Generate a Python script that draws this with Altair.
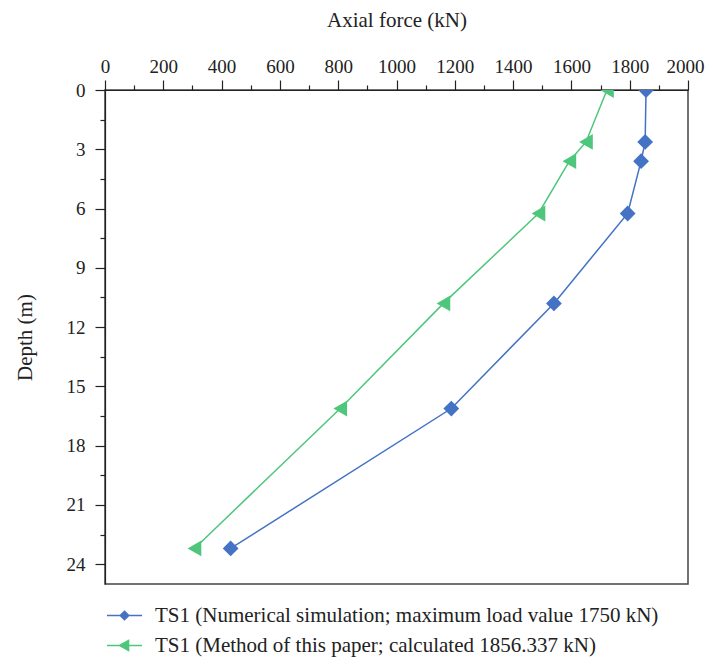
import altair as alt
import pandas as pd

# ---- data ----
depth = [0, 2.63, 3.6, 6.25, 10.8, 16.12, 23.2]
numerical = [1856, 1853, 1839, 1793, 1540, 1188, 431]
method = [1722, 1650, 1593, 1487, 1161, 807, 307]
series_names = [
    "TS1 (Numerical simulation; maximum load value 1750 kN)",
    "TS1 (Method of this paper; calculated 1856.337 kN)",
]
x_ticks = list(range(0, 2001, 100))
y_ticks = [i * 1.5 for i in range(17)]
colors = ["#4472c4", "#4ec67b"]
shapes = ["diamond", "triangle-left"]
legend_paths = [
    "M-3.9,0L3.9,0M0,-0.95L0.95,0L0,0.95L-0.95,0Z",
    "M-3.9,0L3.9,0M-1.1,0L0.9,-1.1L0.9,1.1Z",
]

df = pd.DataFrame({
    "force": numerical + method,
    "depth": depth + depth,
    "series": [series_names[0]] * len(depth) + [series_names[1]] * len(depth),
})

FONT = "Liberation Serif"
INK = "#222222"

x_enc = alt.X(
    "force:Q",
    scale=alt.Scale(domain=[0, 2000], nice=False, zero=False),
    axis=alt.Axis(
        orient="top", values=x_ticks, format="d", title="Axial force (kN)",
        labelExpr="datum.value % 200 === 0 ? datum.label : ''",
        tickSize={"condition": {"test": "datum.value % 200 === 0", "value": 10}, "value": 5},
        labelAlign={"condition": {"test": "datum.value === 2000", "value": "right"}, "value": "center"},
        labelOffset={"condition": {"test": "datum.value === 2000", "value": 16}, "value": 0},
        labelBaseline="alphabetic", labelPadding=8, labelFlush=False, labelOverlap=False,
        labelBound=False,
        titleBaseline="alphabetic", titleX=291.5, titleY=-64, titleAnchor="middle",
        grid=False,
    ),
)
y_enc = alt.Y(
    "depth:Q",
    scale=alt.Scale(domain=[0, 25], reverse=True, nice=False, zero=False),
    axis=alt.Axis(
        values=y_ticks, format="d", title="Depth (m)",
        labelExpr="datum.value % 3 === 0 ? datum.label : ''",
        tickSize={"condition": {"test": "datum.value % 3 === 0", "value": 10}, "value": 5},
        labelPadding=10, labelFlush=False, labelOverlap=False,
        titleBaseline="alphabetic", titleX=-74, titleY=247, titleAngle=270,
        grid=False,
    ),
)

base = alt.Chart(df)

layers = []
for name, col, shp in zip(series_names, colors, shapes):
    sub = base.transform_filter(alt.datum.series == name)
    layers.append(
        sub.mark_line(strokeWidth=1.5, color=col, clip=True).encode(
            x=x_enc, y=y_enc, order=alt.Order("depth:Q")
        )
    )
for name, col, shp in zip(series_names, colors, shapes):
    sub = base.transform_filter(alt.datum.series == name)
    layers.append(
        sub.mark_point(shape=shp, filled=True, size=250, color=col, opacity=1, clip=True)
        .encode(x=x_enc, y=y_enc)
    )

leg = alt.Legend(
    title=None, orient="none", legendX=0, legendY=515, direction="vertical",
    symbolSize=81, symbolStrokeWidth=1.5, symbolOffset=9, labelOffset=20,
    labelFont=FONT, labelFontSize=21, labelColor=INK, rowPadding=8, padding=0,
    labelLimit=1000,
)
legend_layer = base.transform_filter("false").mark_point(filled=True, opacity=1, strokeWidth=1.5).encode(
    x=x_enc, y=y_enc,
    fill=alt.Fill("series:N", scale=alt.Scale(domain=series_names, range=colors), legend=leg),
    stroke=alt.Stroke("series:N", scale=alt.Scale(domain=series_names, range=colors), legend=leg),
    shape=alt.Shape("series:N", scale=alt.Scale(domain=series_names, range=legend_paths), legend=leg),
)
layers.append(legend_layer)

chart = alt.layer(*layers).properties(
    width=583, height=494,
    autosize=alt.AutoSizeParams(type="none"),
    padding={"left": 97, "top": 82, "right": 17, "bottom": 75},
    background="white",
).configure_view(
    stroke="#444444", strokeWidth=1.5,
).configure_axis(
    domainColor=INK, tickColor=INK, labelColor=INK, titleColor=INK,
    domainWidth=1.2, tickWidth=1.2,
    labelFont=FONT, titleFont=FONT, labelFontSize=19, titleFontSize=21,
    titleFontWeight="normal",
)

chart.save("out.html", embed_options={"renderer": "svg", "actions": False})
